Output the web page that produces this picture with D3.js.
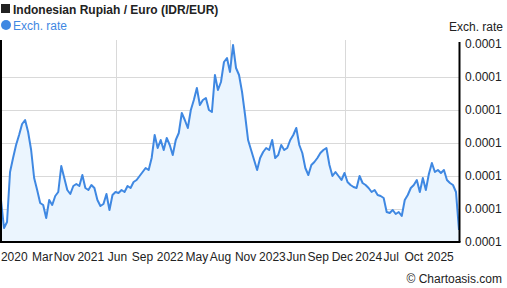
<!DOCTYPE html>
<html>
<head>
<meta charset="utf-8">
<script src="https://cdn.jsdelivr.net/npm/d3@7"></script>
<style>
  body { margin: 0; background: #fff; }
  text { font-family: "Liberation Sans", Arial, sans-serif; }
</style>
</head>
<body>
<svg id="chart" width="507" height="288"></svg>
<script>
// IDR/EUR rate, in millionths of a euro per rupiah, evenly spaced in time
const rateMicro = [
  54.2, 51.4, 52.0, 57.0, 58.4, 59.7, 60.7, 61.8, 62.2, 61.0, 59.2, 56.4, 55.2, 53.9, 53.7, 52.4,
  54.2, 53.7, 54.6, 55.0, 57.6, 56.4, 55.2, 54.8, 55.6, 55.8, 55.6, 56.7, 55.4, 55.2, 55.7, 55.4,
  54.2, 53.6, 53.8, 54.8, 53.2, 54.7, 55.0, 54.9, 55.2, 55.0, 55.6, 55.4, 56.0, 56.2, 56.6, 57.0,
  57.4, 57.2, 58.4, 60.7, 59.4, 60.2, 59.2, 60.4, 59.7, 58.7, 60.2, 60.9, 62.9, 62.2, 61.4, 63.2,
  64.2, 65.4, 63.7, 64.2, 64.4, 63.2, 63.0, 66.7, 65.2, 66.0, 68.0, 68.4, 67.0, 69.7, 67.4, 66.7,
  65.0, 62.7, 60.2, 59.2, 58.2, 57.2, 58.4, 59.0, 59.4, 59.2, 60.2, 58.4, 58.7, 59.7, 59.2, 59.4,
  60.2, 60.7, 61.4, 59.7, 58.9, 57.4, 56.7, 57.7, 58.0, 58.4, 58.9, 59.2, 59.4, 57.7, 56.6, 57.0,
  56.6, 56.2, 56.9, 56.0, 55.7, 55.5, 55.4, 56.6, 55.9, 55.7, 55.4, 55.0, 55.2, 54.7, 54.6, 54.4,
  53.0, 52.9, 53.2, 52.8, 53.0, 52.6, 54.2, 54.7, 55.4, 55.7, 56.2, 55.0, 56.4, 55.2, 56.8, 57.9,
  57.0, 57.2, 56.9, 57.2, 56.2, 55.9, 55.7, 55.0, 51.2
]
const startDate = new Date(2020, 10, 21)
const endDate = new Date(2025, 10, 21)

// x axis labels and the dates they sit at
const tickLabels = ["2020", "Mar", "Nov", "2021", "Jun", "Sep", "2022", "May", "Aug",
  "Nov", "2023", "Jun", "Sep", "Dec", "2024", "Jul", "Oct", "2025"]
const tickDates = ["2021-01-11", "2021-05-03", "2021-07-30", "2021-11-12", "2022-02-26",
  "2022-06-06", "2022-09-24", "2023-01-09", "2023-04-13", "2023-07-22", "2023-11-06",
  "2024-02-09", "2024-05-07", "2024-08-11", "2024-11-24", "2025-02-22", "2025-05-23",
  "2025-09-06"].map(s => new Date(s + "T00:00:00"))

// y axis gridlines (millionths)
const yTicks = [50, 53.3, 56.6, 59.9, 63.2, 66.5, 69.8]

const width = 507, height = 288
const svg = d3.select("#chart")

const margin = {top: 40, right: 48, bottom: 47, left: 1}
const x = d3.scaleTime()
  .domain([startDate, endDate])
  .range([margin.left, width - margin.right])
const y = d3.scaleLinear()
  .domain([50, 69.8])
  .range([242, 44])

const step = (endDate - startDate) / (rateMicro.length - 1)
const data = rateMicro.map((v, i) => ({date: new Date(+startDate + i * step), rate: v / 1e6}))

const fmt = d3.format(".4f")
const plotBottom = height - margin.bottom + 1

// horizontal gridlines
svg.append("g")
  .selectAll("line")
  .data(yTicks.slice(1, -1))
  .enter()
  .append("line")
    .attr("x1", margin.left)
    .attr("x2", width - margin.right)
    .attr("y1", d => Math.round(y(d)) + 0.5)
    .attr("y2", d => Math.round(y(d)) + 0.5)
    .attr("stroke", "#d9d9d9")

// vertical gridlines at quarters of the range
const quarters = [1, 2, 3].map(k => new Date(+startDate + k * (endDate - startDate) / 4))
svg.append("g")
  .selectAll("line")
  .data(quarters)
  .enter()
  .append("line")
    .attr("x1", d => Math.round(x(d)) + 0.5)
    .attr("x2", d => Math.round(x(d)) + 0.5)
    .attr("y1", margin.top)
    .attr("y2", plotBottom)
    .attr("stroke", "#d9d9d9")

// area + line
svg.append("path")
  .datum(data)
  .attr("fill", "#ebf5fe")
  .attr("d", d3.area()
    .x(d => x(d.date))
    .y0(plotBottom)
    .y1(d => y(d.rate * 1e6)))

svg.append("path")
  .datum(data)
  .attr("fill", "none")
  .attr("stroke", "#3f88e2")
  .attr("stroke-width", 2)
  .attr("stroke-linejoin", "round")
  .attr("d", d3.line()
    .x(d => x(d.date))
    .y(d => y(d.rate * 1e6)))

// frame: left, right and bottom
svg.append("line")
  .attr("x1", 1).attr("x2", 1)
  .attr("y1", margin.top).attr("y2", plotBottom)
  .attr("stroke", "#000").attr("stroke-width", 2)
svg.append("line")
  .attr("x1", width - margin.right + 0.5).attr("x2", width - margin.right + 0.5)
  .attr("y1", 42).attr("y2", plotBottom)
  .attr("stroke", "#000").attr("stroke-width", 2)
svg.append("line")
  .attr("x1", 0).attr("x2", width - margin.right + 1.5)
  .attr("y1", plotBottom).attr("y2", plotBottom)
  .attr("stroke", "#000").attr("stroke-width", 2)

// right axis labels
const yAxis = svg.append("g")
  .attr("transform", "translate(" + (width - margin.right + 1) + ",0)")
  .call(d3.axisRight(y).tickValues(yTicks).tickSize(0).tickPadding(5)
    .tickFormat(d => fmt(d / 1e6)))
yAxis.select(".domain").remove()
yAxis.selectAll("text")
  .style("font-family", "Liberation Sans, Arial, sans-serif")
  .style("font-size", "12px")
  .attr("fill", "#222")

svg.append("text")
  .attr("x", 503).attr("y", 31)
  .attr("text-anchor", "end")
  .style("font-size", "12px")
  .attr("fill", "#222")
  .text("Exch. rate")

// bottom axis labels
const xAxis = svg.append("g")
  .attr("transform", "translate(0," + plotBottom + ")")
  .call(d3.axisBottom(x).tickValues(tickDates).tickSize(0).tickPadding(10)
    .tickFormat((d, i) => tickLabels[i]))
xAxis.select(".domain").remove()
xAxis.selectAll("text")
  .style("font-family", "Liberation Sans, Arial, sans-serif")
  .style("font-size", "12px")
  .attr("fill", "#222")

// title and legend
svg.append("rect")
  .attr("x", 1).attr("y", 4).attr("width", 9).attr("height", 9)
  .attr("fill", "#222")
svg.append("text")
  .attr("x", 13).attr("y", 14)
  .style("font-size", "12px")
  .style("font-weight", "bold")
  .attr("fill", "#222")
  .text("Indonesian Rupiah / Euro (IDR/EUR)")

svg.append("circle")
  .attr("cx", 6).attr("cy", 25).attr("r", 5)
  .attr("fill", "#3f88e2")
svg.append("text")
  .attr("x", 13).attr("y", 30)
  .style("font-size", "12px")
  .attr("fill", "#3f88e2")
  .text("Exch. rate")

svg.append("text")
  .attr("x", 502).attr("y", 283)
  .attr("text-anchor", "end")
  .style("font-size", "12px")
  .attr("fill", "#222")
  .text("© Chartoasis.com")
</script>
</body>
</html>
